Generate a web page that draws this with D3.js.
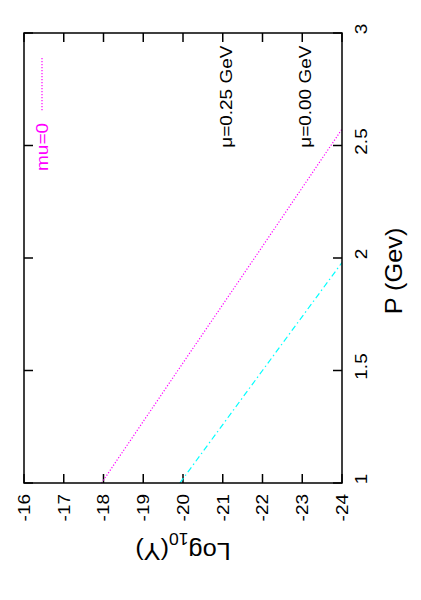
<!DOCTYPE html>
<html>
<head>
<meta charset="utf-8">
<script src="https://cdn.jsdelivr.net/npm/d3@7"></script>
<style>
  body { margin: 0; background: #fff; }
  text { font-family: "Liberation Sans", Arial, sans-serif; }
</style>
</head>
<body>
<div id="chart"></div>
<script>
const logTicks = [-16, -17, -18, -19, -20, -21, -22, -23, -24];
const pTicks = [1, 1.5, 2, 2.5, 3];

const mu0P = [1, 1.5, 2, 2.5, 2.573];
const mu0Log = [-17.95, -19.87, -21.8, -23.72, -24];

const mu025P = [1, 1.5, 1.98];
const mu025Log = [-19.92, -22.0, -24.0];

const notes = [
  { text: "\u03bc=0.25 GeV", log: -21.08, p: 2.49 },
  { text: "\u03bc=0.00 GeV", log: -23.07, p: 2.49 }
];

document.addEventListener("DOMContentLoaded", function() {
  const width = 421, height = 600;
  // Frame of the plot area (the whole gnuplot page is turned 90 degrees).
  const frame = { left: 24, right: 342, top: 33, bottom: 483 };
  const tickLen = 9;
  // The original text is a little stretched along its reading direction.
  const stretch = "scale(1.15,1)";

  const svg = d3.select("#chart").append("svg")
    .attr("width", width)
    .attr("height", height);

  // log10(Y) runs left to right, P runs bottom to top.
  const x = d3.scaleLinear().domain([-16, -24]).range([frame.left, frame.right]);
  const y = d3.scaleLinear().domain([1, 3]).range([frame.bottom, frame.top]);

  svg.append("clipPath").attr("id", "clip")
    .append("rect")
    .attr("x", frame.left).attr("y", frame.top)
    .attr("width", frame.right - frame.left)
    .attr("height", frame.bottom - frame.top);

  // Ticks on all four sides, pointing inwards.
  const ticks = svg.append("g").attr("stroke", "#000").attr("stroke-width", 1.5);
  logTicks.forEach(t => {
    ticks.append("line").attr("x1", x(t)).attr("x2", x(t))
      .attr("y1", frame.bottom).attr("y2", frame.bottom - tickLen);
    ticks.append("line").attr("x1", x(t)).attr("x2", x(t))
      .attr("y1", frame.top).attr("y2", frame.top + tickLen);
  });
  pTicks.forEach(t => {
    ticks.append("line").attr("x1", frame.left).attr("x2", frame.left + tickLen)
      .attr("y1", y(t)).attr("y2", y(t));
    ticks.append("line").attr("x1", frame.right).attr("x2", frame.right - tickLen)
      .attr("y1", y(t)).attr("y2", y(t));
  });

  // Tick labels, turned like the rest of the page.
  svg.append("g").selectAll("text")
    .data(logTicks)
    .enter()
    .append("text")
    .attr("transform", d => `translate(${x(d)},494) rotate(-90) ${stretch}`)
    .attr("text-anchor", "end")
    .attr("dy", "0.35em")
    .style("font-size", "16.5px")
    .text(d => d);

  svg.append("g").selectAll("text")
    .data(pTicks)
    .enter()
    .append("text")
    .attr("transform", d => `translate(361,${y(d) - 4}) rotate(-90) ${stretch}`)
    .attr("text-anchor", "middle")
    .attr("dy", "0.35em")
    .style("font-size", "16.5px")
    .text(d => d);

  // Axis titles.
  svg.append("text")
    .attr("transform", `translate(394,271) rotate(-90) scale(1.1,1)`)
    .attr("text-anchor", "middle")
    .attr("dy", "0.35em")
    .style("font-size", "23px")
    .text("P (Gev)");

  const logTitle = svg.append("text")
    .attr("transform", `translate(183,551) rotate(180) scale(1.1,1)`)
    .attr("text-anchor", "middle")
    .attr("dy", "0.35em")
    .style("font-size", "23px");
  logTitle.append("tspan").text("Log");
  logTitle.append("tspan").attr("baseline-shift", "sub").style("font-size", "16px").text("10");
  logTitle.append("tspan").text("(Y)");

  // The two curves.
  const line = d3.line()
    .x(d => x(d[1]))
    .y(d => y(d[0]));

  const plot = svg.append("g").attr("clip-path", "url(#clip)");
  plot.append("path")
    .datum(d3.zip(mu0P, mu0Log))
    .attr("fill", "none")
    .attr("stroke", "#ff00ff")
    .attr("stroke-width", 1.2)
    .attr("stroke-dasharray", "1.2,1.8")
    .attr("d", line);

  plot.append("path")
    .datum(d3.zip(mu025P, mu025Log))
    .attr("fill", "none")
    .attr("stroke", "#00ffff")
    .attr("stroke-width", 1.2)
    .attr("stroke-dasharray", "6,3,1.5,3")
    .attr("d", line);

  // Legend (only one key in the original).
  svg.append("line")
    .attr("x1", 42).attr("x2", 42)
    .attr("y1", 58).attr("y2", 112)
    .attr("stroke", "#ff00ff")
    .attr("stroke-width", 1.2)
    .attr("stroke-dasharray", "1.2,1.8");
  svg.append("text")
    .attr("transform", `translate(42,123) rotate(-90) ${stretch}`)
    .attr("text-anchor", "end")
    .attr("dy", "0.35em")
    .attr("fill", "#ff00ff")
    .style("font-size", "16.5px")
    .text("mu=0");

  // Curve labels.
  svg.append("g").selectAll("text")
    .data(notes)
    .enter()
    .append("text")
    .attr("transform", d => `translate(${x(d.log)},${y(d.p)}) rotate(-90) ${stretch}`)
    .attr("text-anchor", "start")
    .attr("dy", "0.35em")
    .style("font-size", "16.5px")
    .text(d => d.text);

  // Frame.
  svg.append("rect")
    .attr("x", frame.left).attr("y", frame.top)
    .attr("width", frame.right - frame.left)
    .attr("height", frame.bottom - frame.top)
    .attr("fill", "none")
    .attr("stroke", "#000")
    .attr("stroke-width", 1.5);
});
</script>
</body>
</html>
